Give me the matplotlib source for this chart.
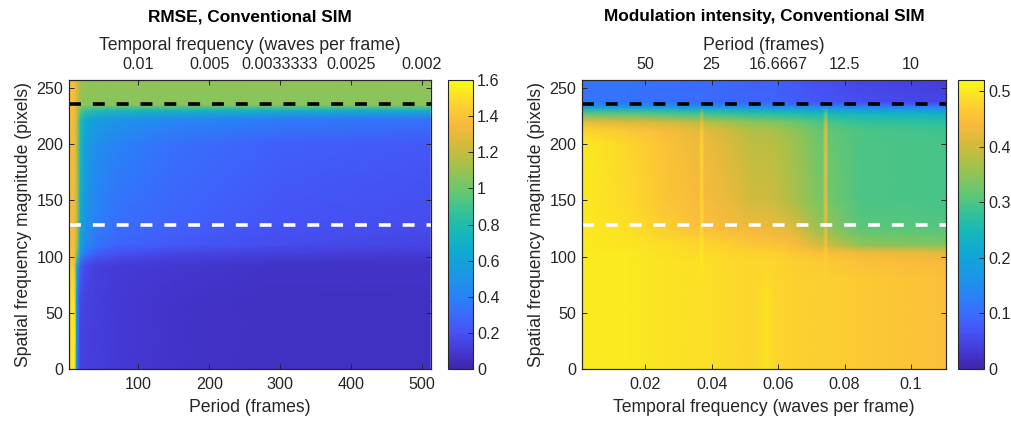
import numpy as np
import matplotlib
matplotlib.use("Agg")
import matplotlib.pyplot as plt
from matplotlib.colors import LinearSegmentedColormap

plt.rcParams['font.family'] = ['Liberation Sans', 'DejaVu Sans']
INK = '#262626'

# Parula-like colormap
parula_pos = [0.000, 0.060, 0.125, 0.190, 0.250, 0.320, 0.400, 0.470,
              0.540, 0.620, 0.700, 0.780, 0.850, 0.920, 1.000]
parula_rgb = [(0.2422, 0.1504, 0.6603), (0.2670, 0.2200, 0.8300),
              (0.2780, 0.3200, 0.9600), (0.2300, 0.4200, 0.9950),
              (0.1600, 0.5100, 0.9700), (0.1100, 0.5900, 0.9000),
              (0.0600, 0.6600, 0.8300), (0.0800, 0.7200, 0.7300),
              (0.2000, 0.7600, 0.6000), (0.4200, 0.7800, 0.4300),
              (0.6300, 0.7600, 0.3000), (0.8400, 0.7300, 0.2300),
              (0.9800, 0.7300, 0.2400), (0.9900, 0.8300, 0.1800),
              (0.9769, 0.9839, 0.0805)]
parula = LinearSegmentedColormap.from_list('parula', list(zip(parula_pos, parula_rgb)), N=256)

# ---------------- RMSE map (period vs spatial frequency) ----------------
rmse_period = [2, 5, 6, 10, 13, 18, 25, 40, 70, 150, 300, 512]
rmse_spatial = [0, 60, 92, 102, 110, 130, 200, 222, 230, 235, 257]
rmse_values = [
    [1.38, 1.50, 1.55, 1.55, 0.45, 0.14, 0.13, 0.12, 0.10, 0.08, 0.06, 0.06],
    [1.38, 1.50, 1.55, 1.52, 0.50, 0.16, 0.14, 0.12, 0.10, 0.08, 0.06, 0.06],
    [1.38, 1.45, 1.45, 1.35, 0.70, 0.26, 0.17, 0.13, 0.11, 0.09, 0.07, 0.07],
    [1.40, 1.42, 1.38, 1.35, 1.00, 0.50, 0.34, 0.24, 0.19, 0.15, 0.12, 0.10],
    [1.45, 1.40, 1.36, 1.34, 1.15, 0.62, 0.45, 0.34, 0.28, 0.23, 0.18, 0.15],
    [1.48, 1.40, 1.35, 1.33, 1.20, 0.68, 0.50, 0.40, 0.33, 0.27, 0.21, 0.18],
    [1.50, 1.40, 1.35, 1.32, 1.20, 0.78, 0.58, 0.47, 0.40, 0.33, 0.26, 0.23],
    [1.50, 1.40, 1.35, 1.32, 1.20, 0.82, 0.66, 0.56, 0.50, 0.44, 0.38, 0.34],
    [1.50, 1.40, 1.36, 1.33, 1.22, 0.96, 0.86, 0.80, 0.77, 0.74, 0.71, 0.69],
    [1.50, 1.40, 1.38, 1.35, 1.25, 1.10, 1.07, 1.06, 1.06, 1.06, 1.06, 1.06],
    [1.50, 1.40, 1.38, 1.35, 1.25, 1.12, 1.09, 1.08, 1.08, 1.08, 1.08, 1.08],
]
rmse_ticks = [100, 200, 300, 400, 500]
rmse_top_labels = ['0.01', '0.005', '0.0033333', '0.0025', '0.002']
rmse_cbar_ticks = [0, 0.2, 0.4, 0.6, 0.8, 1, 1.2, 1.4, 1.6]

# ------------- Modulation map (temporal vs spatial frequency) -------------
mod_freq = [0.001, 0.015, 0.025, 0.0361, 0.0370, 0.0379, 0.045, 0.053,
            0.0565, 0.059, 0.065, 0.0734, 0.0743, 0.0752, 0.085, 0.1105]
mod_spatial = [0, 60, 80, 96, 104, 110, 118, 126, 150, 200, 212, 220,
               228, 233, 236, 238, 257]
mod_values = [
    [0.50, 0.50, 0.495, 0.49, 0.49, 0.49, 0.485, 0.48, 0.495, 0.48, 0.475, 0.47, 0.47, 0.47, 0.465, 0.45],
    [0.50, 0.50, 0.495, 0.49, 0.49, 0.49, 0.485, 0.48, 0.495, 0.48, 0.475, 0.47, 0.47, 0.47, 0.465, 0.45],
    [0.50, 0.50, 0.495, 0.49, 0.49, 0.49, 0.485, 0.48, 0.485, 0.48, 0.475, 0.47, 0.47, 0.47, 0.465, 0.45],
    [0.50, 0.50, 0.495, 0.49, 0.50, 0.49, 0.485, 0.48, 0.48, 0.48, 0.47, 0.465, 0.475, 0.465, 0.45, 0.44],
    [0.50, 0.50, 0.49, 0.485, 0.50, 0.485, 0.48, 0.475, 0.475, 0.47, 0.46, 0.445, 0.47, 0.445, 0.43, 0.42],
    [0.50, 0.495, 0.49, 0.48, 0.50, 0.48, 0.47, 0.46, 0.46, 0.455, 0.445, 0.40, 0.45, 0.40, 0.35, 0.34],
    [0.50, 0.495, 0.48, 0.465, 0.49, 0.465, 0.455, 0.445, 0.445, 0.44, 0.43, 0.37, 0.44, 0.37, 0.33, 0.32],
    [0.50, 0.49, 0.47, 0.45, 0.485, 0.45, 0.44, 0.43, 0.43, 0.425, 0.41, 0.35, 0.44, 0.35, 0.31, 0.305],
    [0.50, 0.485, 0.46, 0.44, 0.48, 0.44, 0.425, 0.40, 0.40, 0.395, 0.37, 0.33, 0.44, 0.33, 0.30, 0.295],
    [0.50, 0.48, 0.455, 0.43, 0.48, 0.43, 0.41, 0.385, 0.385, 0.38, 0.36, 0.32, 0.44, 0.32, 0.30, 0.295],
    [0.48, 0.46, 0.445, 0.42, 0.47, 0.42, 0.40, 0.375, 0.375, 0.37, 0.35, 0.315, 0.44, 0.315, 0.30, 0.29],
    [0.42, 0.41, 0.40, 0.38, 0.43, 0.38, 0.36, 0.34, 0.34, 0.335, 0.32, 0.295, 0.41, 0.295, 0.28, 0.27],
    [0.30, 0.30, 0.29, 0.28, 0.34, 0.28, 0.27, 0.26, 0.26, 0.255, 0.25, 0.24, 0.32, 0.24, 0.23, 0.22],
    [0.18, 0.18, 0.175, 0.17, 0.18, 0.17, 0.165, 0.16, 0.16, 0.16, 0.155, 0.15, 0.16, 0.15, 0.14, 0.13],
    [0.13, 0.13, 0.125, 0.12, 0.12, 0.12, 0.115, 0.11, 0.11, 0.11, 0.10, 0.09, 0.09, 0.09, 0.08, 0.07],
    [0.11, 0.11, 0.105, 0.10, 0.10, 0.10, 0.095, 0.09, 0.09, 0.09, 0.08, 0.07, 0.07, 0.07, 0.06, 0.05],
    [0.11, 0.11, 0.105, 0.10, 0.10, 0.10, 0.095, 0.085, 0.085, 0.085, 0.075, 0.06, 0.06, 0.06, 0.05, 0.04],
]
mod_ticks = [0.02, 0.04, 0.06, 0.08, 0.1]
mod_tick_labels = ['0.02', '0.04', '0.06', '0.08', '0.1']
mod_top_labels = ['50', '25', '16.6667', '12.5', '10']
mod_cbar_ticks = [0, 0.1, 0.2, 0.3, 0.4, 0.5]

# Reference lines (spatial frequency, pixels)
cutoff_line = 236
half_line = 128

spatial_ticks = [0, 50, 100, 150, 200, 250]

W, H = 1011, 421
fig = plt.figure(figsize=(W / 100, H / 100), dpi=100)

TICK_FS = 11.6
LABEL_FS = 12.7
TITLE_FS = 12.4


def box(x0, y0, x1, y1):
    return [x0 / W, (H - y1) / H, (x1 - x0) / W, (y1 - y0) / H]


def style_axes(ax):
    for s in ax.spines.values():
        s.set_color(INK)
        s.set_linewidth(0.8)
    ax.tick_params(direction='in', length=3.5, width=0.7, colors=INK,
                   labelsize=TICK_FS, labelcolor=INK, pad=6)


def panel(ax_box, cax_box, x, y, z, vmin, vmax, xlim, ticks, tick_labels,
          top_labels, xlabel, top_xlabel, title, cbar_ticks, cbar_labels):
    ax = fig.add_axes(box(*ax_box))
    mesh = ax.pcolormesh(x, y, np.array(z), shading='gouraud', cmap=parula,
                         vmin=vmin, vmax=vmax, rasterized=True)
    ax.set_xlim(*xlim)
    ax.set_ylim(0, 257)
    ax.axhline(cutoff_line, color='black', lw=2.6, linestyle=(0, (3.3, 3.3)))
    ax.axhline(half_line, color='white', lw=2.6, linestyle=(0, (3.3, 3.3)))
    ax.set_xticks(ticks)
    ax.set_xticklabels(tick_labels)
    ax.set_yticks(spatial_ticks)
    ax.tick_params(right=True)
    style_axes(ax)
    ax.tick_params(axis='y', pad=4)
    ax.set_xlabel(xlabel, fontsize=LABEL_FS, color=INK, labelpad=5)
    ax.set_ylabel('Spatial frequency magnitude (pixels)', fontsize=LABEL_FS,
                  color=INK, labelpad=3)

    top = ax.twiny()
    top.set_xlim(*xlim)
    top.set_xticks(ticks)
    top.set_xticklabels(top_labels)
    style_axes(top)
    top.set_xlabel(top_xlabel, fontsize=LABEL_FS, color=INK, labelpad=5)
    top.set_title(title, fontsize=TITLE_FS, fontweight='bold', color='black', pad=11)

    cax = fig.add_axes(box(*cax_box))
    cb = fig.colorbar(mesh, cax=cax, ticks=cbar_ticks)
    cb.ax.set_yticklabels(cbar_labels)
    cb.outline.set_edgecolor(INK)
    cb.outline.set_linewidth(0.8)
    cb.ax.tick_params(direction='in', length=3.5, width=0.7, colors=INK,
                      labelsize=TICK_FS, labelcolor=INK, pad=3)
    return ax


panel((69, 80, 431, 369), (448, 80, 473, 369), rmse_period, rmse_spatial,
      rmse_values, 0, 1.6, (2, 513), rmse_ticks,
      [str(t) for t in rmse_ticks], rmse_top_labels, 'Period (frames)',
      'Temporal frequency (waves per frame)', 'RMSE, Conventional SIM',
      rmse_cbar_ticks, ['0', '0.2', '0.4', '0.6', '0.8', '1', '1.2', '1.4', '1.6'])

panel((582, 80, 946, 369), (958, 80, 984, 369), mod_freq, mod_spatial,
      mod_values, 0, 0.52, (0.001, 0.1105), mod_ticks, mod_tick_labels,
      mod_top_labels, 'Temporal frequency (waves per frame)',
      'Period (frames)', 'Modulation intensity, Conventional SIM',
      mod_cbar_ticks, ['0', '0.1', '0.2', '0.3', '0.4', '0.5'])

fig.savefig('out.png', dpi=100)
